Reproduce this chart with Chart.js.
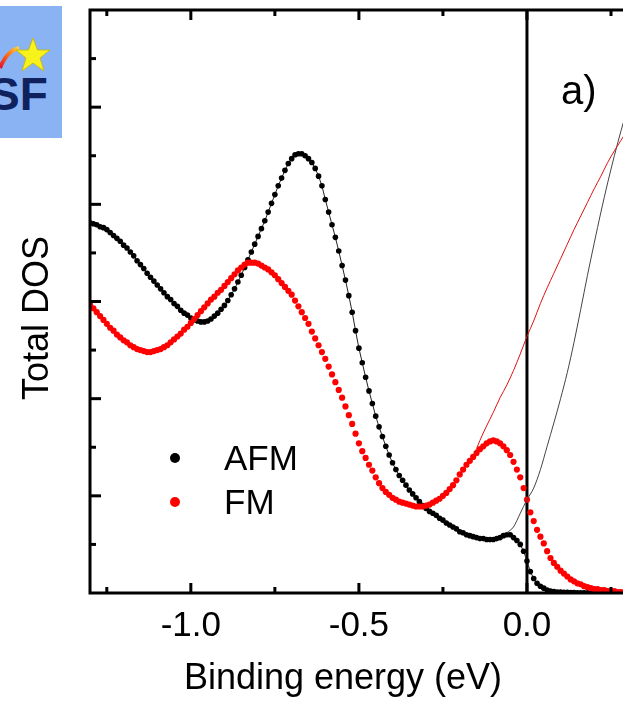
<!DOCTYPE html>
<html>
<head>
<meta charset="utf-8">
<script src="https://cdn.jsdelivr.net/npm/chart.js@4.4.1/dist/chart.umd.min.js"></script>
<style>
    html, body { margin: 0; padding: 0; background: #fff; }
    #wrap { position: relative; width: 623px; height: 705px; overflow: hidden; }
    #dos { position: absolute; left: 0; top: 0; }
    #logo { position: absolute; left: 0; top: 6px; }
</style>
</head>
<body>
<div id="wrap">
    <canvas id="dos" width="623" height="705"></canvas>
    <svg id="logo" width="62" height="132" viewBox="0 0 62 132">
        <defs>
            <linearGradient id="swoosh" x1="0" y1="1" x2="1" y2="0">
                <stop offset="0" stop-color="#e0102a"/>
                <stop offset="0.6" stop-color="#ff7a1a"/>
                <stop offset="1" stop-color="#ffd23a"/>
            </linearGradient>
        </defs>
        <rect x="0" y="0" width="62" height="132" fill="#8ab3f4"/>
        <path d="M0,62 C4,52 9,44 19,42" stroke="url(#swoosh)" stroke-width="4" fill="none"/>
        <polygon points="33,32 37.5,44 50,44 40,52 44,65 33,57 22,65 26,52 16,44 28.5,44"
                 fill="#f7f21c" stroke="#c9b400" stroke-width="0.8"/>
        <text x="-11" y="104" font-family="Liberation Sans, Arial, sans-serif" font-weight="bold"
              font-size="46" fill="#10225e">SF</text>
    </svg>
</div>
<script>
// binding energy grid (eV)
const energy = [
    -1.30, -1.29, -1.28, -1.27, -1.26, -1.25, -1.24, -1.23, -1.22, -1.21,
    -1.20, -1.19, -1.18, -1.17, -1.16, -1.15, -1.14, -1.13, -1.12, -1.11,
    -1.10, -1.09, -1.08, -1.07, -1.06, -1.05, -1.04, -1.03, -1.02, -1.01,
    -1.00, -0.99, -0.98, -0.97, -0.96, -0.95, -0.94, -0.93, -0.92, -0.91,
    -0.90, -0.89, -0.88, -0.87, -0.86, -0.85, -0.84, -0.83, -0.82, -0.81,
    -0.80, -0.79, -0.78, -0.77, -0.76, -0.75, -0.74, -0.73, -0.72, -0.71,
    -0.70, -0.69, -0.68, -0.67, -0.66, -0.65, -0.64, -0.63, -0.62, -0.61,
    -0.60, -0.59, -0.58, -0.57, -0.56, -0.55, -0.54, -0.53, -0.52, -0.51,
    -0.50, -0.49, -0.48, -0.47, -0.46, -0.45, -0.44, -0.43, -0.42, -0.41,
    -0.40, -0.39, -0.38, -0.37, -0.36, -0.35, -0.34, -0.33, -0.32, -0.31,
    -0.30, -0.29, -0.28, -0.27, -0.26, -0.25, -0.24, -0.23, -0.22, -0.21,
    -0.20, -0.19, -0.18, -0.17, -0.16, -0.15, -0.14, -0.13, -0.12, -0.11,
    -0.10, -0.09, -0.08, -0.07, -0.06, -0.05, -0.04, -0.03, -0.02, -0.01,
     0.00,  0.01,  0.02,  0.03,  0.04,  0.05,  0.06,  0.07,  0.08,  0.09,
     0.10,  0.11,  0.12,  0.13,  0.14,  0.15,  0.16,  0.17,  0.18,  0.19,
     0.20,  0.21,  0.22,  0.23,  0.24,  0.25,  0.26,  0.27,  0.28
];

// AFM total DOS (black dots)
const afm = [
    3.81, 3.80, 3.79, 3.77, 3.76, 3.74, 3.71, 3.68, 3.65, 3.62,
    3.58, 3.55, 3.51, 3.47, 3.42, 3.38, 3.34, 3.29, 3.25, 3.21,
    3.17, 3.13, 3.09, 3.05, 3.02, 2.98, 2.95, 2.91, 2.88, 2.86,
    2.83, 2.81, 2.80, 2.79, 2.79, 2.80, 2.82, 2.85, 2.88, 2.92,
    2.96, 3.01, 3.07, 3.13, 3.20, 3.27, 3.35, 3.43, 3.51, 3.59,
    3.67, 3.75, 3.83, 3.92, 4.01, 4.10, 4.19, 4.27, 4.35, 4.42,
    4.47, 4.51, 4.52, 4.52, 4.50, 4.47, 4.43, 4.37, 4.29, 4.19,
    4.05, 3.92, 3.79, 3.66, 3.52, 3.37, 3.22, 3.06, 2.89, 2.70,
    2.52, 2.37, 2.22, 2.08, 1.95, 1.82, 1.71, 1.61, 1.51, 1.42,
    1.34, 1.27, 1.21, 1.16, 1.11, 1.06, 1.02, 0.98, 0.94, 0.90,
    0.87, 0.84, 0.82, 0.80, 0.77, 0.75, 0.72, 0.70, 0.68, 0.66,
    0.63, 0.62, 0.60, 0.59, 0.58, 0.57, 0.56, 0.56, 0.55, 0.55,
    0.55, 0.56, 0.57, 0.59, 0.60, 0.60, 0.57, 0.54, 0.50, 0.43,
    0.33, 0.22, 0.15, 0.10, 0.07, 0.05, 0.03, 0.02, 0.015, 0.01,
    0.01, 0.008, 0.006, 0.005, 0.004, 0.003, 0.003, 0.002, 0.002, 0.002,
    0.001, 0.001, 0.001, 0.001, 0.001, 0.001, 0.001, 0.001, 0.001
];

// FM total DOS (red dots)
const fm = [
    2.97, 2.93, 2.89, 2.85, 2.81, 2.77, 2.73, 2.70, 2.66, 2.63,
    2.60, 2.58, 2.55, 2.53, 2.51, 2.50, 2.49, 2.48, 2.48, 2.49,
    2.50, 2.51, 2.53, 2.55, 2.58, 2.61, 2.64, 2.67, 2.71, 2.74,
    2.78, 2.82, 2.86, 2.90, 2.94, 2.98, 3.02, 3.05, 3.09, 3.12,
    3.16, 3.20, 3.24, 3.28, 3.32, 3.35, 3.38, 3.40, 3.40, 3.40,
    3.39, 3.37, 3.35, 3.33, 3.30, 3.27, 3.23, 3.19, 3.15, 3.11,
    3.07, 3.01, 2.95, 2.89, 2.83, 2.77, 2.69, 2.62, 2.55, 2.48,
    2.41, 2.33, 2.25, 2.17, 2.09, 2.01, 1.92, 1.83, 1.74, 1.64,
    1.54, 1.46, 1.39, 1.32, 1.26, 1.19, 1.13, 1.08, 1.04, 1.01,
    0.98, 0.96, 0.94, 0.93, 0.92, 0.91, 0.90, 0.89, 0.89, 0.89,
    0.90, 0.91, 0.93, 0.95, 0.97, 1.00, 1.03, 1.07, 1.11, 1.16,
    1.22, 1.27, 1.32, 1.36, 1.40, 1.44, 1.48, 1.51, 1.54, 1.56,
    1.57, 1.56, 1.54, 1.51, 1.47, 1.42, 1.35, 1.27, 1.19, 1.08,
    0.96, 0.83, 0.74, 0.65, 0.58, 0.51, 0.43, 0.36, 0.31, 0.27,
    0.23, 0.20, 0.17, 0.14, 0.12, 0.10, 0.09, 0.07, 0.06, 0.05,
    0.04, 0.04, 0.03, 0.03, 0.02, 0.02, 0.02, 0.01, 0.01
];

// thin lines above the Fermi level (DOS without the Fermi cut-off)
const afmLineEnergy = [-0.06, -0.04, -0.02, 0.00, 0.02, 0.04, 0.06, 0.08, 0.10, 0.12, 0.14, 0.16, 0.18, 0.20, 0.22, 0.24, 0.26, 0.28, 0.30];
const afmLine = [0.62, 0.68, 0.82, 0.96, 1.08, 1.27, 1.51, 1.75, 2.00, 2.27, 2.58, 2.92, 3.27, 3.60, 3.92, 4.22, 4.50, 4.76, 5.00];
const fmLineEnergy = [-0.16, -0.14, -0.12, -0.10, -0.08, -0.06, -0.04, -0.02, 0.00, 0.02, 0.04, 0.06, 0.08, 0.10, 0.12, 0.14, 0.16, 0.18, 0.20, 0.22, 0.24, 0.26, 0.28, 0.30];
const fmLine = [1.40, 1.57, 1.72, 1.86, 2.01, 2.14, 2.29, 2.46, 2.64, 2.80, 2.98, 3.14, 3.29, 3.44, 3.59, 3.74, 3.88, 4.02, 4.16, 4.29, 4.43, 4.55, 4.66, 4.77];

// axes
const xMajorTicks = [-1.0, -0.5, 0.0];
const xTickLabels = ['-1.0', '-0.5', '0.0'];
const xMinorTicks = [-1.25, -0.75, -0.25, 0.25];
const yMajorTicks = [1, 2, 3, 4, 5];
const yMinorTicks = [0.5, 1.5, 2.5, 3.5, 4.5, 5.5];

const seriesNames = ['AFM', 'FM'];
const seriesColors = ['#000000', '#ff0000'];

const FONT = '"Liberation Sans", Arial, sans-serif';

function pairs(xs, ys) {
    return xs.map((x, i) => ({ x: x, y: ys[i] }));
}

// frame, inward ticks, labels and legend
const framePlugin = {
    id: 'framePlugin',
    beforeDatasetsDraw(chart) {
        const ctx = chart.ctx;
        const a = chart.chartArea;
        const x0 = chart.scales.x.getPixelForValue(0);
        ctx.save();
        ctx.strokeStyle = '#000';
        ctx.lineWidth = 3;
        ctx.beginPath();
        ctx.moveTo(x0, a.top);
        ctx.lineTo(x0, a.bottom);
        ctx.stroke();
        ctx.restore();
    },
    afterDatasetsDraw(chart) {
        const ctx = chart.ctx;
        const a = chart.chartArea;
        const xs = chart.scales.x;
        const ys = chart.scales.y;
        ctx.save();
        ctx.strokeStyle = '#000';
        ctx.lineWidth = 3;
        ctx.lineCap = 'butt';

        // frame (right side lies outside the picture)
        ctx.beginPath();
        ctx.moveTo(a.right + 2, a.top);
        ctx.lineTo(a.left, a.top);
        ctx.lineTo(a.left, a.bottom);
        ctx.lineTo(a.right + 2, a.bottom);
        ctx.stroke();

        // x ticks, bottom and top
        const xTick = (v, len) => {
            const px = xs.getPixelForValue(v);
            ctx.beginPath();
            ctx.moveTo(px, a.bottom);
            ctx.lineTo(px, a.bottom - len);
            ctx.moveTo(px, a.top);
            ctx.lineTo(px, a.top + len);
            ctx.stroke();
        };
        xMajorTicks.forEach(v => xTick(v, 10));
        xMinorTicks.forEach(v => xTick(v, 6));

        // y ticks
        const yTick = (v, len) => {
            const py = ys.getPixelForValue(v);
            ctx.beginPath();
            ctx.moveTo(a.left, py);
            ctx.lineTo(a.left + len, py);
            ctx.stroke();
        };
        yMajorTicks.forEach(v => yTick(v, 11));
        yMinorTicks.forEach(v => yTick(v, 6));

        // tick labels
        ctx.fillStyle = '#000';
        ctx.font = '35px ' + FONT;
        ctx.textAlign = 'center';
        ctx.textBaseline = 'alphabetic';
        xMajorTicks.forEach((v, i) => {
            ctx.fillText(xTickLabels[i], xs.getPixelForValue(v), 636);
        });

        // axis titles
        ctx.font = '36px ' + FONT;
        ctx.fillText('Binding energy (eV)', 343, 689);
        ctx.save();
        ctx.translate(48, 318);
        ctx.rotate(-Math.PI / 2);
        ctx.fillText('Total DOS', 0, 0);
        ctx.restore();

        // panel label
        ctx.textAlign = 'left';
        ctx.font = '40px ' + FONT;
        ctx.fillText('a)', 561, 104);

        // legend
        ctx.font = '35px ' + FONT;
        const legendY = [458, 502];
        seriesNames.forEach((name, i) => {
            ctx.fillStyle = seriesColors[i];
            ctx.beginPath();
            ctx.arc(175, legendY[i], 5, 0, Math.PI * 2);
            ctx.fill();
            ctx.fillStyle = '#000';
            ctx.fillText(name, 224, legendY[i] + 12);
        });
        ctx.restore();
    }
};

new Chart(document.getElementById('dos'), {
    type: 'line',
    data: {
        datasets: [
            {
                label: 'FM line',
                data: pairs(fmLineEnergy, fmLine),
                borderColor: '#e01010',
                borderWidth: 1,
                pointRadius: 0,
                cubicInterpolationMode: 'monotone'
            },
            {
                label: 'AFM line',
                data: pairs(afmLineEnergy, afmLine),
                borderColor: '#444444',
                borderWidth: 1,
                pointRadius: 0,
                cubicInterpolationMode: 'monotone'
            },
            {
                label: 'FM',
                data: pairs(energy, fm),
                showLine: false,
                pointRadius: 3.1,
                pointBorderWidth: 0,
                pointBackgroundColor: seriesColors[1]
            },
            {
                label: 'AFM',
                data: pairs(energy, afm),
                borderColor: '#222222',
                borderWidth: 1,
                pointRadius: 2.8,
                pointBorderWidth: 0,
                pointBackgroundColor: seriesColors[0]
            }
        ]
    },
    options: {
        responsive: false,
        animation: false,
        devicePixelRatio: 1,
        layout: { autoPadding: false, padding: { left: 90, top: 10, right: 0, bottom: 112 } },
        plugins: {
            legend: { display: false },
            tooltip: { enabled: false }
        },
        scales: {
            x: { type: 'linear', min: -1.30, max: 0.2857, display: false },
            y: { type: 'linear', min: 0, max: 6.0, display: false }
        }
    },
    plugins: [framePlugin]
});
</script>
</body>
</html>
